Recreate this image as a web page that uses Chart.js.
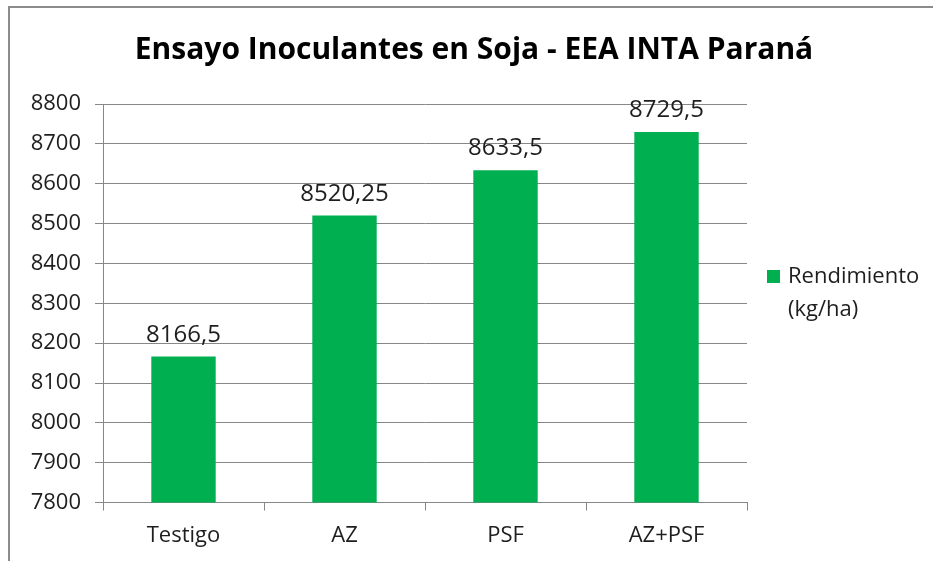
<!DOCTYPE html>
<html>
<head>
<meta charset="utf-8">
<script src="https://cdn.jsdelivr.net/npm/chart.js@4"></script>
<style>
    body { margin: 0; background: #fff; }
    #wrap { position: relative; width: 933px; height: 561px; overflow: hidden; }
    #marco { position: absolute; left: 8px; top: 6px; width: 960px; height: 600px; border: 2px solid #8c8c8c; }
    #grafico { position: absolute; left: 0; top: 0; }
</style>
</head>
<body>
<div id="wrap">
    <div id="marco"></div>
    <canvas id="grafico" width="933" height="561"></canvas>
</div>
<script>
var categorias = ["Testigo", "AZ", "PSF", "AZ+PSF"];
var rendimiento = [8166.5, 8520.25, 8633.5, 8729.5];
var serieNombre = ["Rendimiento", "(kg/ha)"];
var titulo = "Ensayo Inoculantes en Soja - EEA INTA Paraná";
var ejeMin = 7800;
var ejeMax = 8800;
var ejePaso = 100;

var verde = "#00b050";
var gris = "#878787";
var texto = "#1e1e1e";
var fuente = "'Open Sans', sans-serif";

// titulo centrado sobre todo el marco, no solo sobre el area del grafico
var tituloCentrado = {
    id: "tituloCentrado",
    afterDraw: function (chart) {
        var ctx = chart.ctx;
        ctx.save();
        ctx.font = "bold 30px " + fuente;
        ctx.fillStyle = "#000";
        ctx.textAlign = "center";
        ctx.textBaseline = "middle";
        ctx.fillText(titulo, 474, 50);
        ctx.restore();
    }
};

// etiquetas de valor sobre cada barra
var etiquetasBarras = {
    id: "etiquetasBarras",
    afterDatasetsDraw: function (chart) {
        var ctx = chart.ctx;
        var meta = chart.getDatasetMeta(0);
        ctx.save();
        ctx.font = "24px " + fuente;
        ctx.fillStyle = texto;
        ctx.textAlign = "center";
        ctx.textBaseline = "alphabetic";
        meta.data.forEach(function (bar, i) {
            var valor = String(chart.data.datasets[0].data[i]).replace(".", ",");
            ctx.fillText(valor, bar.x, bar.y - 15);
        });
        ctx.restore();
    }
};

// leyenda a la derecha, en dos renglones
var leyenda = {
    id: "leyenda",
    afterDraw: function (chart) {
        var ctx = chart.ctx;
        var x = chart.chartArea.right + 20;
        var y = 270;
        ctx.save();
        ctx.fillStyle = verde;
        ctx.fillRect(x, y, 13, 13);
        ctx.font = "22px " + fuente;
        ctx.fillStyle = texto;
        ctx.textAlign = "left";
        ctx.textBaseline = "middle";
        ctx.fillText(serieNombre[0], x + 21, y + 7);
        ctx.fillText(serieNombre[1], x + 21, y + 40);
        ctx.restore();
    }
};

new Chart(document.getElementById("grafico"), {
    type: "bar",
    data: {
        labels: categorias,
        datasets: [
            {
                label: serieNombre.join(" "),
                data: rendimiento,
                backgroundColor: verde,
                barPercentage: 0.4,
                categoryPercentage: 1
            }
        ]
    },
    options: {
        responsive: false,
        animation: false,
        layout: { padding: { top: 104, left: 0, right: 186, bottom: 0 } },
        plugins: {
            legend: { display: false },
            tooltip: { enabled: false },
            title: { display: false }
        },
        scales: {
            x: {
                grid: { offset: true, drawOnChartArea: false, color: gris, tickLength: 8 },
                border: { color: gris },
                ticks: { color: texto, padding: 12, font: { family: fuente, size: 22 } }
            },
            y: {
                min: ejeMin,
                max: ejeMax,
                afterFit: function (scale) { scale.width = 103; },
                grid: { color: gris, tickLength: 8 },
                border: { color: gris },
                ticks: {
                    stepSize: ejePaso,
                    color: texto,
                    padding: 14,
                    font: { family: fuente, size: 22 },
                    callback: function (v) { return String(v); }
                }
            }
        }
    },
    plugins: [tituloCentrado, etiquetasBarras, leyenda]
});
</script>
</body>
</html>
